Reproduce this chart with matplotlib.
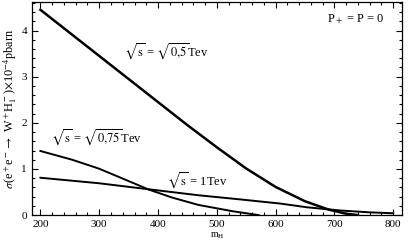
import numpy as np
import matplotlib.pyplot as plt
from matplotlib.ticker import MultipleLocator

plt.rcParams['font.family'] = ['Liberation Serif', 'DejaVu Serif']
plt.rcParams['mathtext.fontset'] = 'stix'

# cross section curves (x10^-4 pbarn)
m_05 = [200, 250, 300, 350, 400, 450, 500, 550, 600, 650, 690, 720, 740]
s_05 = [4.45, 3.95, 3.45, 2.95, 2.45, 1.95, 1.47, 1.01, 0.61, 0.30, 0.12, 0.03, 0.0]

m_075 = [200, 254, 299, 344, 384, 424, 469, 526, 571]
s_075 = [1.39, 1.20, 1.01, 0.77, 0.555, 0.38, 0.22, 0.086, 0.0]

m_1 = [200, 250, 300, 384, 469, 540, 608, 653, 710, 760, 800]
s_1 = [0.81, 0.75, 0.69, 0.56, 0.43, 0.34, 0.25, 0.17, 0.10, 0.06, 0.04]

fig = plt.figure(figsize=(4.09, 2.45), dpi=100)
ax = fig.add_axes([0.078, 0.122, 0.905, 0.870])

ax.plot(m_05, s_05, color='black', lw=1.8)
ax.plot(m_075, s_075, color='black', lw=1.4)
ax.plot(m_1, s_1, color='black', lw=1.4)

ax.text(414, 3.54, r'$\sqrt{\mathrm{s}}$ = $\sqrt{0{,}5}$Tev', ha='center', va='center', fontsize=9)
ax.text(296, 1.68, r'$\sqrt{\mathrm{s}}$ = $\sqrt{0{,}75}$Tev', ha='center', va='center', fontsize=9)
ax.text(467, 0.75, r'$\sqrt{\mathrm{s}}$ = 1Tev', ha='center', va='center', fontsize=9)
ax.text(737, 4.25, r'P$_+$ = P = 0', ha='center', va='center', fontsize=9)

ax.set_xlim(185.5, 815)
ax.set_ylim(0, 4.62)
ax.xaxis.set_major_locator(MultipleLocator(100))
ax.xaxis.set_minor_locator(MultipleLocator(20))
ax.yaxis.set_major_locator(MultipleLocator(1))
ax.yaxis.set_minor_locator(MultipleLocator(0.2))
ax.tick_params(which='both', direction='in', top=True, right=True, labelsize=8, width=0.8)
ax.tick_params(which='major', length=4)
ax.tick_params(which='minor', length=2)
for s in ax.spines.values():
    s.set_linewidth(0.9)

ax.set_xlabel(r'm$_\mathrm{H}$', fontsize=7, labelpad=1)
ax.set_ylabel(r'$\sigma$(e$^+$e$^-$$\rightarrow$ W$^+$H$^-_1$)$\times$10$^{-4}$pbarn', fontsize=8.8, labelpad=2)

fig.savefig('out.png', dpi=100)
